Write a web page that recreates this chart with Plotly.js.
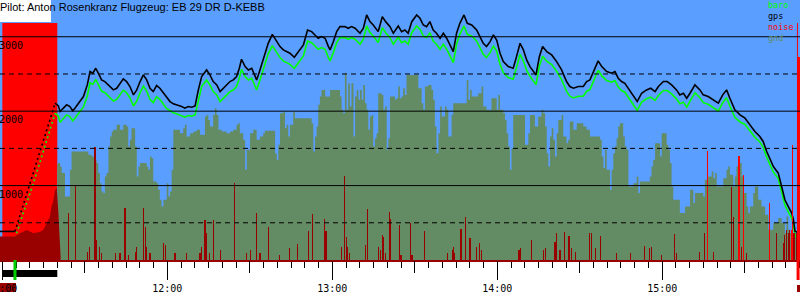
<!DOCTYPE html>
<html><head><meta charset="utf-8">
<script src="https://cdn.plot.ly/plotly-3.0.1.min.js"></script>
<style>html,body{margin:0;padding:0;background:#fff;overflow:hidden}#chart{width:800px;height:300px}</style>
</head><body><div id="chart"></div>
<script>
// All times are minutes after 11:00
const titleText = "Pilot: Anton Rosenkranz Flugzeug: EB 29 DR D-KEBB";
const seriesNames = ["baro", "gps", "noise", "gnd"];
const altLabels = [1000, 2000, 3000];

const engineStart = 0, engineEnd = 20;      // engine run (red band)
const takeoffMin = 4.6, landingMin = 289.4;
const landEngineStart = 289.0, landEngineEnd = 289.35;

const preMin = [-0.84, 4.6];
const preGps = [384, 384];
const preBaro = [295, 295];

const climbMin = [4.6, 11.9, 19.2];
const climbGps = [384, 1257, 2107];
const climbBaro = [295, 1100, 1972];

const flightMin = [19.2,20.4,21.0,22.2,23.4,24.6,25.6,26.4,28.3,29.5,30.9,31.9,32.9,34.0,34.9,36.1,37.3,38.6,40.4,41.6,42.8,44.0,45.2,46.4,47.7,48.9,50.1,51.3,52.5,53.7,54.9,56.1,57.3,58.6,59.8,61.0,62.2,63.4,65.2,66.4,67.6,68.9,70.1,71.3,72.5,74.3,75.5,76.7,78.0,79.2,80.4,81.6,82.8,84.0,85.2,86.2,87.0,88.3,89.5,90.7,91.9,92.5,93.7,94.9,95.5,96.7,98.2,99.8,101.0,102.2,103.4,104.6,106.2,107.7,109.5,111.0,112.5,113.7,114.9,116.1,117.4,118.6,119.2,120.4,121.6,122.8,124.6,125.8,127.0,128.3,130.1,131.3,132.5,133.7,134.9,136.7,138.2,139.4,141.0,142.2,144.0,145.2,146.4,147.6,148.9,150.7,151.9,153.1,154.3,155.5,156.7,157.9,159.2,160.4,161.6,162.8,164.0,165.2,166.4,167.9,169.1,170.7,172.5,173.7,174.9,176.1,177.4,178.6,179.8,181.0,182.2,184.0,185.8,187.0,188.3,189.5,190.7,191.9,193.1,194.1,195.3,196.5,198.0,199.8,201.6,203.4,205.2,206.4,207.7,209.5,211.3,212.5,213.7,214.9,216.7,218.0,219.8,221.6,222.8,224.0,225.2,226.4,228.3,229.5,230.9,232.5,234.3,235.8,237.4,238.6,240.4,241.8,243.4,245.2,246.4,247.7,248.9,250.1,251.9,253.7,254.9,256.7,258.6,260.4,262.0,263.4,264.6,266.4,268.3,270.1,271.9,273.7,275.5,276.7,278.0,279.2,280.4,282.2,283.4,284.6,285.8,287.1,287.7,288.3,288.9,290.1];
const gpsAlt = [2107,2071,1995,2040,2085,2062,2004,2040,2129,2197,2353,2532,2510,2577,2510,2420,2398,2353,2286,2308,2375,2434,2398,2331,2219,2286,2398,2487,2420,2308,2264,2344,2308,2241,2174,2129,2098,2085,2062,2040,2062,2053,2071,2286,2465,2554,2487,2398,2353,2264,2308,2353,2398,2420,2465,2577,2698,2599,2554,2577,2487,2420,2554,2689,2756,2912,3033,2935,2868,2823,2801,2778,2724,2801,2890,3091,3069,3024,2980,3002,2980,2868,2823,2935,3069,3136,3136,3114,3136,3114,3047,3114,3293,3203,3158,3069,3270,3203,3136,3047,3145,3069,3091,3047,3203,3293,3248,3158,3136,3203,3091,3047,2980,3047,2980,2890,2801,3047,3181,3293,3181,3158,3091,3002,2912,2868,2935,3024,2957,2778,2666,2599,2577,2733,2912,2823,2689,2599,2532,2487,2733,2868,2801,2756,2666,2554,2398,2331,2308,2331,2331,2398,2420,2532,2675,2599,2532,2510,2532,2443,2398,2375,2264,2197,2129,2241,2286,2308,2264,2331,2398,2398,2353,2286,2219,2241,2174,2241,2353,2286,2219,2197,2152,2107,2219,2286,2174,2018,1950,1906,1816,1727,1660,1593,1458,1346,1257,1167,988,810,720,631,541,385,376,376];
const baroAlt = [1972,1936,1850,1902,1950,1927,1869,1905,1994,2057,2203,2382,2360,2427,2360,2270,2248,2203,2136,2158,2225,2284,2248,2181,2069,2136,2248,2337,2270,2158,2114,2194,2158,2091,2034,2009,1978,1965,1942,1920,1942,1933,1951,2156,2330,2419,2352,2263,2218,2129,2173,2218,2263,2285,2330,2442,2563,2464,2419,2442,2352,2285,2419,2554,2616,2770,2880,2787,2720,2675,2653,2630,2576,2653,2742,2943,2921,2876,2832,2854,2832,2720,2675,2787,2921,2988,2988,2966,2988,2966,2899,2966,3145,3055,3010,2921,3122,3055,2988,2899,2997,2921,2943,2899,3055,3145,3100,3010,2988,3055,2943,2899,2832,2899,2832,2742,2653,2899,3033,3145,3033,3010,2943,2854,2764,2720,2787,2876,2809,2630,2518,2451,2429,2585,2764,2675,2549,2469,2402,2357,2603,2738,2671,2626,2536,2424,2268,2201,2178,2201,2201,2268,2290,2402,2550,2474,2412,2390,2412,2323,2278,2255,2144,2077,2009,2121,2166,2188,2144,2211,2278,2278,2233,2166,2099,2121,2054,2136,2248,2181,2114,2092,2047,2002,2114,2181,2069,1918,1855,1821,1736,1650,1585,1518,1383,1271,1182,1094,916,740,650,561,473,317,309,309];

const gndMin = [20.0,21.0,21.6,22.8,24.0,24.6,25.2,30.7,31.3,32.5,33.7,34.3,34.9,35.5,36.1,36.7,37.3,37.9,38.6,39.2,39.8,40.4,41.6,42.8,44.0,45.2,45.8,46.4,47.0,47.6,48.3,48.9,49.5,50.1,51.3,52.5,53.1,53.7,54.3,54.9,56.1,56.7,57.3,57.9,58.6,59.8,60.4,61.0,61.6,62.2,63.4,64.6,65.8,66.4,67.0,68.3,69.5,70.7,71.9,73.7,74.3,74.9,75.5,76.7,77.3,77.9,78.6,79.8,81.6,82.8,84.0,85.2,85.8,86.4,87.6,88.3,88.9,90.1,91.3,92.5,93.7,94.9,95.5,99.2,99.8,100.4,101.0,102.2,102.8,103.4,104.0,104.6,105.8,106.4,112.5,113.1,113.7,114.3,114.9,115.5,116.1,117.4,119.2,122.8,123.4,124.0,124.6,125.2,125.8,126.4,127.0,127.7,128.3,128.9,129.5,130.1,130.7,131.3,131.9,132.5,133.1,133.7,134.3,134.9,135.5,136.1,136.7,137.9,138.6,139.2,139.8,140.4,141.0,142.8,143.4,144.0,144.6,145.2,145.8,146.4,147.0,151.3,152.5,153.1,153.7,154.9,156.1,156.7,157.3,157.9,158.6,159.2,159.8,161.0,161.6,162.2,163.4,164.0,168.9,169.5,170.1,170.7,173.1,174.3,174.9,176.1,177.9,179.8,180.4,181.0,182.2,182.8,183.4,184.0,184.6,185.2,185.8,190.1,191.3,191.9,193.7,194.9,196.1,196.7,197.4,198.0,198.6,199.2,199.8,200.4,201.0,201.6,202.2,203.4,204.0,205.2,205.8,206.4,207.7,208.9,211.3,212.5,213.7,217.4,218.0,218.6,219.2,219.8,221.0,221.6,222.2,222.8,223.4,224.0,224.6,225.8,226.4,227.1,227.7,229.5,230.7,231.3,231.9,235.5,236.1,236.7,237.4,239.2,239.8,241.6,242.2,242.8,243.4,244.0,246.4,248.3,250.1,251.3,251.9,254.9,255.5,256.7,258.0,258.6,259.2,259.8,262.2,263.4,264.0,264.6,265.8,266.4,267.0,267.7,268.9,269.5,270.7,271.3,271.9,273.1,273.7,274.9,276.1,277.4,278.6,280.4,282.2,283.4,284.6,285.2,285.8,286.4,288.9,290.1];
const gndAlt = [1302,1257,1168,854,854,1212,1458,1458,1414,1391,1346,1302,1168,1033,921,899,1123,1168,1525,1660,1727,1749,1816,1749,1816,1794,1525,1615,1772,1772,1525,1123,1257,1302,1302,1257,1212,1391,1369,1056,1033,944,810,720,810,1033,854,921,1212,1749,1749,1704,1772,1816,1660,1704,1727,1749,1682,1928,1950,1883,1794,1950,2040,1950,1749,1727,1704,1727,1749,1816,1839,1704,1615,1212,1481,1704,1749,1615,1660,1704,1736,1436,1346,1548,1973,1995,1772,1816,1660,1816,1995,1906,1839,1458,1660,1794,2085,2197,2286,2197,2286,2197,2018,1973,2510,2018,2375,2062,2375,1660,2197,2286,2152,2286,2152,2353,2107,2018,1749,1928,1950,1525,1637,1704,2241,2219,2018,2062,1481,1637,2197,2152,2174,2331,2174,2197,2308,2219,2487,2308,2107,2018,2331,2353,2286,2152,1794,1436,1704,2062,1928,2062,2018,1660,1951,2107,2420,2152,2286,2197,2241,2331,2062,2018,2174,2018,2219,2018,1973,1883,1704,1525,1212,1503,1950,1548,1704,1950,1794,1928,2018,1973,1794,1436,1257,1660,1772,1615,1391,1704,1883,1950,1660,1570,1615,1861,1749,1839,1794,1749,1660,1615,1391,1235,1481,1212,944,1212,1436,1525,1637,1794,1839,1660,1525,1481,988,1033,1123,899,1056,1123,1257,1346,1570,1391,1704,1548,1481,1302,988,810,631,720,944,765,899,854,1078,1123,1190,1100,1167,988,1100,1212,1257,1145,988,1123,1257,1302,1123,899,720,631,720,899,988,810,720,608,407,497,564,497,362,586,407,362,317,317];

const engNoiseMin = [-0.84,4.6,6.4,8.9,11.3,13.7,14.9,16.1,17.3,17.9,18.6,19.2,19.8,20.4,20.7,21.2];
const engNoise = [90,90,103,115,103,109,115,141,167,205,231,269,276,180,103,13];

const spikeMin = [24.0,26.7,30.9,31.6,33.7,34.3,35.3,36.1,41.0,42.8,44.6,45.8,48.3,48.9,51.5,52.0,52.5,53.7,58.6,59.2,62.8,67.0,71.9,72.5,73.7,74.3,75.5,76.7,79.2,84.4,88.9,90.1,92.3,93.7,96.7,100.7,104.6,107.3,111.3,112.9,117.1,117.7,123.4,124.4,125.1,125.6,126.4,132.1,132.7,136.9,137.4,138.2,138.6,139.4,140.7,141.1,144.4,145.0,148.6,149.0,153.5,161.9,163.6,164.1,164.6,166.8,168.3,170.1,172.6,173.4,173.7,174.3,187.9,188.6,192.3,196.7,197.7,201.0,201.4,202.8,204.4,206.1,207.1,208.3,213.7,214.3,215.8,217.6,223.4,228.3,233.4,235.5,236.1,239.8,244.6,245.2,253.7,255.3,258.6,265.2,265.8,268.9,270.7,281.6,284.0,284.6,285.2,285.8,286.4,287.9,288.9];
const spikeVal = [180,288,32,51,436,77,51,26,26,26,199,19,32,51,199,128,51,26,64,58,26,26,26,51,154,103,26,154,38,297,26,38,180,26,128,19,45,60,112,177,156,112,51,323,90,51,26,59,196,50,38,95,87,26,185,159,133,19,141,19,112,26,38,51,26,118,164,85,51,64,51,38,38,45,77,38,45,68,103,38,109,94,45,32,103,103,45,94,26,26,54,45,51,19,100,26,32,103,32,282,167,51,26,103,64,96,115,103,115,103,103];

const hiMin = [256.3,267.9,269.7,278.9,287.0,287.5,289.6];
const hiVal = [421,401,327,218,115,442,782];

const T0 = Date.UTC(2000,0,1,11,0,0);
const toX = m => T0 + m*60000;
const X = arr => arr.map(toX);

const C = {bg:'#5a9eff', gnd:'#648c64', baro:'#00ff00', gps:'#000000', noise:'#ff0000', noiseDark:'#990000'};
const xr = [toX(-0.84), toX(290.1)];
const H = 260;

const traces = [
  {x:X(gndMin), y:gndAlt, type:'scatter', mode:'lines', line:{shape:'hv', width:0, color:C.gnd}, fill:'tozeroy', fillcolor:C.gnd, hoverinfo:'skip'},
  {x:X(preMin), y:preBaro, type:'scatter', mode:'lines', line:{color:C.baro, width:1.6}},
  {x:X(climbMin), y:climbBaro, type:'scatter', mode:'lines', line:{color:C.baro, width:1.6, dash:'2px,3px'}},
  {x:X(flightMin), y:baroAlt, type:'scatter', mode:'lines', line:{color:C.baro, width:1.6}},
  {x:X(preMin), y:preGps, type:'scatter', mode:'lines', line:{color:C.gps, width:1.6}},
  {x:X(climbMin), y:climbGps, type:'scatter', mode:'lines', line:{color:C.gps, width:1.6, dash:'2px,3px'}},
  {x:X(flightMin), y:gpsAlt, type:'scatter', mode:'lines', line:{color:C.gps, width:1.6}},
  {x:X(engNoiseMin), y:engNoise, yaxis:'y2', type:'scatter', mode:'lines', line:{width:0, color:C.noiseDark}, fill:'tozeroy', fillcolor:C.noiseDark},
  {x:X(spikeMin), y:spikeVal, yaxis:'y2', type:'bar', width:24000, marker:{color:C.noiseDark, line:{width:0}}},
  {x:X(hiMin), y:hiVal, yaxis:'y2', type:'bar', width:hiMin.map((t,i)=> i===hiMin.length-1 ? 50000 : 24000), marker:{color:C.noise, line:{width:0}}},
  {x:[xr[0]], y:[null], xaxis:'x2', type:'scatter', mode:'lines', showlegend:false, hoverinfo:'skip'}
];

const shapes = [
  {type:'rect', xref:'paper', yref:'paper', x0:0, x1:51/800, y0:1-22/H, y1:1, fillcolor:'#ffffff', line:{width:0}, layer:'below'},
  {type:'rect', xref:'x', yref:'paper', x0:toX(engineStart), x1:toX(engineEnd), y0:0, y1:1-23/H, fillcolor:C.noise, line:{width:0}, layer:'below'},
  {type:'rect', xref:'x', yref:'paper', x0:toX(landEngineStart), x1:toX(landEngineEnd), y0:0, y1:1-23/H, fillcolor:C.noise, line:{width:0}, layer:'below'},
  {type:'rect', xref:'paper', yref:'paper', x0:0, x1:16/800, y0:-32/H, y1:-23/H, fillcolor:C.noiseDark, line:{width:0}, layer:'below'},
  {type:'rect', xref:'paper', yref:'paper', x0:797/800, x1:1, y0:-32/H, y1:-25/H, fillcolor:C.noiseDark, line:{width:0}, layer:'below'},
  {type:'rect', xref:'x', yref:'paper', x0:toX(engineStart), x1:toX(engineEnd), y0:-17/H, y1:-10/H, fillcolor:'#000000', line:{width:0}, layer:'above'},
  {type:'line', xref:'x', yref:'paper', x0:toX(takeoffMin), x1:toX(takeoffMin), y0:0, y1:-20/H, line:{color:'#00cc00', width:3}, layer:'above'},
  {type:'line', xref:'x', yref:'paper', x0:toX(landingMin), x1:toX(landingMin), y0:0, y1:-20/H, line:{color:C.noise, width:3}, layer:'above'}
];
[500,1000,1500,2000,2500,3000].forEach(v => {
  shapes.push({type:'line', xref:'paper', yref:'y', x0:0, x1:1, y0:v, y1:v, line:{color:'#000', width:1, dash: v%1000 ? '5px,4px' : 'solid'}, layer:'above'});
});

const mono = 'DejaVu Sans Mono, monospace';
const legendColors = [C.baro, C.gps, C.noise, C.gnd];
const legendText = seriesNames.map((n,i) => '<span style="color:' + legendColors[i] + '">' + n + '</span>').join('<br>');
const annotations = [
  {text:titleText, xref:'paper', yref:'paper', x:0, y:1, xanchor:'left', yanchor:'top', showarrow:false, font:{family:'Liberation Sans, Arial, sans-serif', size:11, color:'#000'}, xshift:-2, yshift:1},
  {text:legendText, xref:'paper', yref:'paper', x:770/800, y:1, xanchor:'left', yanchor:'top', align:'left', showarrow:false, font:{family:mono, size:8.5, color:'#000'}, xshift:-3, yshift:1, borderpad:0}
];
altLabels.forEach(v => annotations.push({text:String(v), xref:'paper', yref:'y', x:0, y:v, xanchor:'left', yanchor:'top', showarrow:false, font:{family:mono, size:10, color:'#000'}, xshift:-3, yshift:-1}));

const layout = {
  width:800, height:300,
  margin:{l:0, r:0, t:0, b:40, pad:0},
  paper_bgcolor:'#ffffff', plot_bgcolor:C.bg,
  showlegend:false, barmode:'overlay', bargap:0,
  xaxis:{type:'date', range:xr, tick0:toX(0), dtick:3600000, tickformat:'%H:%M',
    ticks:'outside', ticklen:18, tickwidth:1, tickcolor:'#000', ticklabeloverflow:'allow',
    tickfont:{family:mono, size:10, color:'#000'},
    showgrid:false, zeroline:false, showline:true, linecolor:C.noiseDark, linewidth:2,
    minor:{ticks:'outside', tick0:toX(0), dtick:300000, ticklen:6, tickwidth:1, tickcolor:'#000', showgrid:false},
    fixedrange:true},
  xaxis2:{type:'date', overlaying:'x', anchor:'y', side:'bottom', range:xr, tick0:toX(0), dtick:1800000,
    ticks:'outside', ticklen:12, tickwidth:1, tickcolor:'#000', showticklabels:false,
    showgrid:false, zeroline:false, showline:false, fixedrange:true},
  yaxis:{range:[0,3494], showticklabels:false, showgrid:false, zeroline:false, ticks:'', fixedrange:true},
  yaxis2:{range:[0,1000], overlaying:'y', visible:false, fixedrange:true},
  shapes:shapes, annotations:annotations
};

Plotly.newPlot('chart', traces, layout, {staticPlot:true, displayModeBar:false});
</script>
</body></html>
